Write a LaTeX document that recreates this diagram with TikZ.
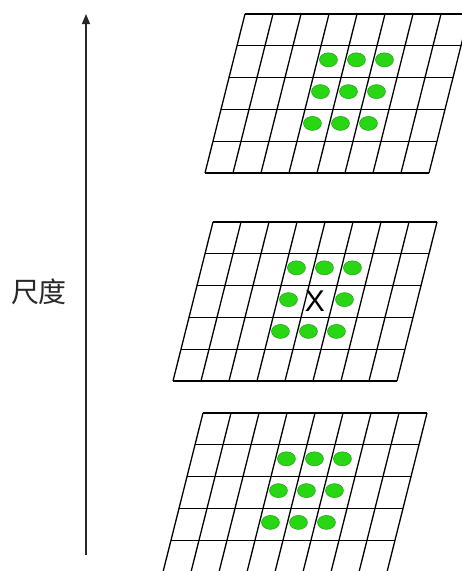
\documentclass[tikz,border=0pt]{standalone}
\usepackage{fontspec}
\newfontfamily\cjkfont{Noto Sans CJK SC}
\newfontfamily\markfont{Liberation Sans}
\usetikzlibrary{arrows.meta,shapes.geometric}

\definecolor{dotgreen}{RGB}{40,214,20}
\definecolor{dotedge}{RGB}{30,160,20}
\definecolor{axisgray}{RGB}{40,40,40}

\tikzset{
  gridline/.style={line width=1.3pt,black},
  dot/.style={ellipse,fill=dotgreen,draw=dotedge,line width=0.5pt,
    minimum width=18pt,minimum height=14pt,inner sep=0pt},
  axisline/.style={line width=1.2pt,axisgray,-{Triangle[length=10pt,width=8pt]}}
}

\begin{document}
\begin{tikzpicture}[x=1pt,y=-1pt]
    \useasboundingbox (0,0) rectangle (462,571);
    \clip (0,0) rectangle (462,571);

    % Scale axis
    \coordinate (axis-low) at (86,555);
    \coordinate (axis-high) at (86,14);
    \draw[axisline] (axis-low) -- (axis-high);
    \node[text=axisgray,font=\cjkfont\fontsize{28}{30}\selectfont] (scalelabel) at (39,292) {尺度};

    % Three layers: top, middle (with the sample point), bottom
    \foreach \name/\xo/\yo/\k in {top/245/14/0, mid/213/222/1, low/203/413/0} {
      \begin{scope}[shift={(\xo,\yo)},xslant=0.2516]
        \foreach \j in {0,...,5}
          \draw[gridline] (0,{31.8*\j}) -- (224,{31.8*\j});
        \foreach \i in {0,...,8}
          \draw[gridline] ({28*\i},0) -- ({28*\i},159);
        % Neighbour points
        \foreach \i in {3,4,5}
          \foreach \j in {1,2,3} {
            \ifnum\i\j\k=421
              \node[font=\markfont\fontsize{30}{32}\selectfont,inner sep=0pt] (\name-x) at ({28*\i+10},{31.8*\j+16}) {X};
            \else
              \node[dot] (\name-\i-\j) at ({28*\i+11},{31.8*\j+14}) {};
            \fi
          }
      \end{scope}
    }
\end{tikzpicture}
\end{document}
